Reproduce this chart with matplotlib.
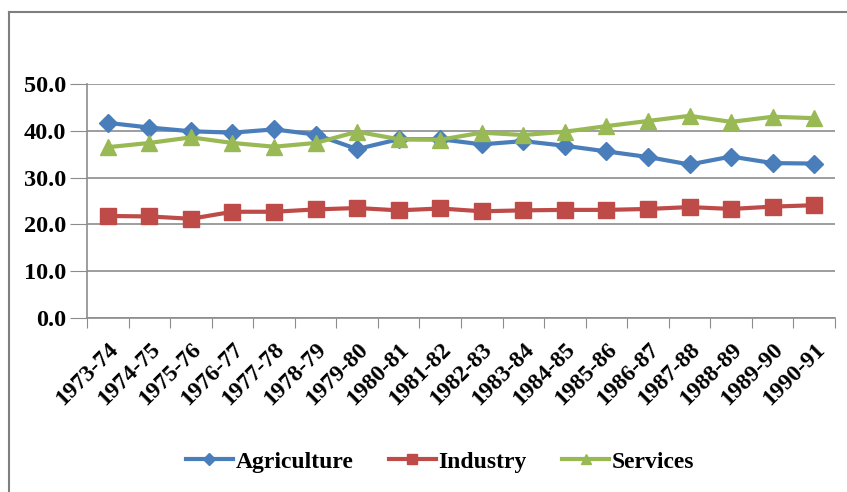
import matplotlib
matplotlib.use("Agg")
import matplotlib.pyplot as plt
from matplotlib.lines import Line2D
import numpy as np

years = ["1973-74", "1974-75", "1975-76", "1976-77", "1977-78", "1978-79",
         "1979-80", "1980-81", "1981-82", "1982-83", "1983-84", "1984-85",
         "1985-86", "1986-87", "1987-88", "1988-89", "1989-90", "1990-91"]
agriculture = [41.7, 40.7, 39.9, 39.6, 40.3, 39.2, 36.1, 38.2, 38.2, 37.1,
               37.8, 36.8, 35.6, 34.4, 32.8, 34.5, 33.1, 33.0]
industry = [21.8, 21.7, 21.2, 22.7, 22.7, 23.2, 23.5, 23.0, 23.4, 22.8,
            23.0, 23.1, 23.1, 23.3, 23.7, 23.3, 23.8, 24.1]
services = [36.5, 37.4, 38.6, 37.4, 36.6, 37.4, 39.8, 38.2, 38.1, 39.6,
            39.1, 39.8, 41.0, 42.1, 43.2, 41.9, 43.0, 42.7]

plt.rcParams['font.family'] = ['Liberation Serif', 'DejaVu Serif']

fig = plt.figure(figsize=(8.47, 4.92), dpi=100)
W, H = 847, 492
ax = fig.add_axes([87 / W, 1 - 318 / H, (835 - 87) / W, (318 - 84) / H])

x = np.arange(len(years))
ax.plot(x, agriculture, color='#4A7EBB', lw=3, marker='D', ms=9,
        label='Agriculture', zorder=3)
ax.plot(x, industry, color='#BE4B48', lw=3, marker='s', ms=11,
        label='Industry', zorder=3)
ax.plot(x, services, color='#98B954', lw=3, marker='^', ms=11,
        label='Services', zorder=3)

ax.set_xlim(-0.5, len(years) - 0.5)
ax.set_ylim(0, 50)
ax.set_yticks(np.arange(0, 51, 10))
ax.set_yticklabels([f"{v:.1f}" for v in np.arange(0, 51, 10)],
                   fontsize=17.5, fontweight='bold')
ax.yaxis.grid(True, color='#8c8c8c', lw=1.2)
ax.set_axisbelow(True)

ax.set_xticks(np.arange(-0.5, len(years), 1))
ax.set_xticklabels([])
ax.set_xticks(x, minor=True)
ax.set_xticklabels(years, minor=True, rotation=45, ha='right',
                   rotation_mode='anchor', fontsize=17, fontweight='bold')
ax.tick_params(axis='x', which='major', length=7, color='#8c8c8c', direction='out')
ax.tick_params(axis='x', which='minor', length=0, pad=15)
ax.tick_params(axis='y', length=12, color='#8c8c8c', direction='out', pad=3)

for s in ['top', 'right']:
    ax.spines[s].set_visible(False)
for s in ['left', 'bottom']:
    ax.spines[s].set_color('#8c8c8c')
    ax.spines[s].set_linewidth(1.2)

leg = fig.legend(loc='center', bbox_to_anchor=(440 / W, 1 - 462 / H), ncol=3,
                 frameon=False, prop={'size': 17, 'weight': 'bold'},
                 handlelength=2.0, handletextpad=0.1, columnspacing=1.5,
                 markerscale=0.7)

# chart frame (top and left edges visible in the reference)
fig.add_artist(Line2D([9 / W, 9 / W], [0, 1 - 12 / H], color='#7f7f7f', lw=1.5,
                      transform=fig.transFigure))
fig.add_artist(Line2D([9 / W, 1], [1 - 12 / H, 1 - 12 / H], color='#7f7f7f',
                      lw=1.5, transform=fig.transFigure))

fig.savefig('out.png', dpi=100)
